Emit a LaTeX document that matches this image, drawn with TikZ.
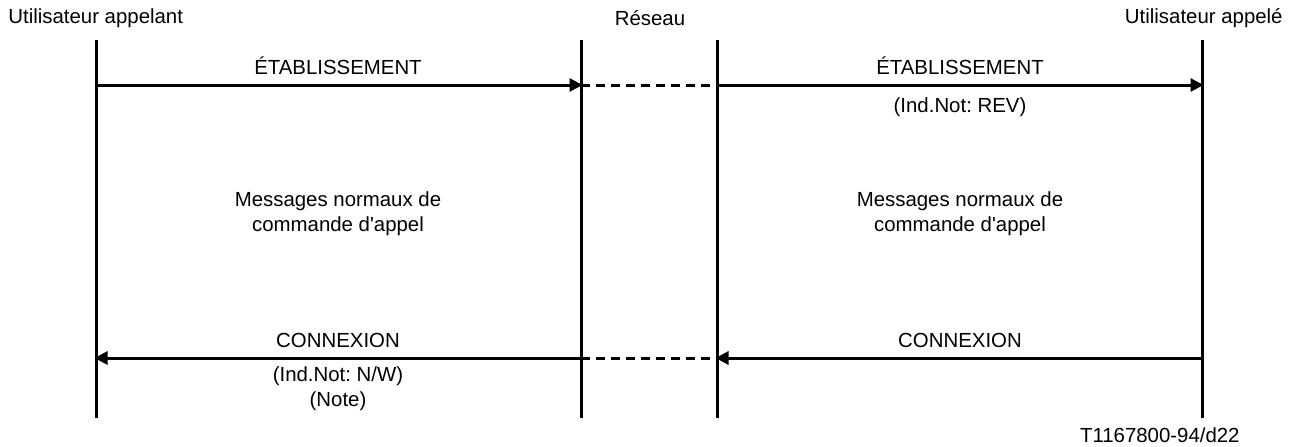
\documentclass[tikz,border=0pt]{standalone}
\usepackage{fontspec}
\setmainfont{Liberation Sans}
\usetikzlibrary{arrows.meta}
\frenchspacing

\begin{document}
\begin{tikzpicture}[x=0.5pt,y=-0.5pt,
    every node/.style={font=\fontsize{10.2}{12.2}\selectfont, inner sep=0pt},
    life/.style={line width=1.5pt},
    msg/.style={line width=1.5pt, -{Triangle[length=6.5pt,width=6.5pt]}, shorten >=-0.75pt},
    gap/.style={line width=1.5pt, dash pattern=on 4.5pt off 3pt}]

    \useasboundingbox (0,0) rectangle (1296,446);

    % lifelines
    \coordinate (aTop) at (96,40);   \coordinate (aBot) at (96,418);
    \coordinate (bTop) at (581,40);  \coordinate (bBot) at (581,418);
    \coordinate (cTop) at (717,40);  \coordinate (cBot) at (717,418);
    \coordinate (dTop) at (1202,40); \coordinate (dBot) at (1202,418);
    \draw[life] (aTop) -- (aBot);
    \draw[life] (bTop) -- (bBot);
    \draw[life] (cTop) -- (cBot);
    \draw[life] (dTop) -- (dBot);

    \node[anchor=west] (caller) at (8,18) {Utilisateur appelant};
    \node (net) at (650,18) {Réseau};
    \node[anchor=east] (callee) at (1283,18) {Utilisateur appelé};

    % ETABLISSEMENT
    \coordinate (a1) at (96,85);  \coordinate (b1) at (581,85);
    \coordinate (c1) at (717,85); \coordinate (d1) at (1202,85);
    \draw[msg] (a1) -- (b1);
    \draw[gap] (b1) -- (c1);
    \draw[msg] (c1) -- (d1);
    \node[anchor=base] (setupL) at (338,74) {ÉTABLISSEMENT};
    \node[anchor=base] (setupR) at (960,74) {ÉTABLISSEMENT};
    \node (indR) at (960,107) {(Ind.Not: REV)};

    % normal messages
    \node[align=center] (normL) at (338,214) {Messages normaux de\\[0.5pt]commande d\textquotesingle appel};
    \node[align=center] (normR) at (960,214) {Messages normaux de\\[0.5pt]commande d\textquotesingle appel};

    % CONNEXION
    \coordinate (a2) at (96,358);  \coordinate (b2) at (581,358);
    \coordinate (c2) at (717,358); \coordinate (d2) at (1202,358);
    \draw[msg] (b2) -- (a2);
    \draw[gap] (b2) -- (c2);
    \draw[msg] (d2) -- (c2);
    \node[anchor=base] (connL) at (338,347) {CONNEXION};
    \node[anchor=base] (connR) at (960,347) {CONNEXION};
    \node[align=center] (indL) at (338,389) {(Ind.Not: N/W)\\[0.5pt](Note)};

    \node[anchor=east] (ref) at (1240,435) {T1167800-94/d22};

\end{tikzpicture}
\end{document}
